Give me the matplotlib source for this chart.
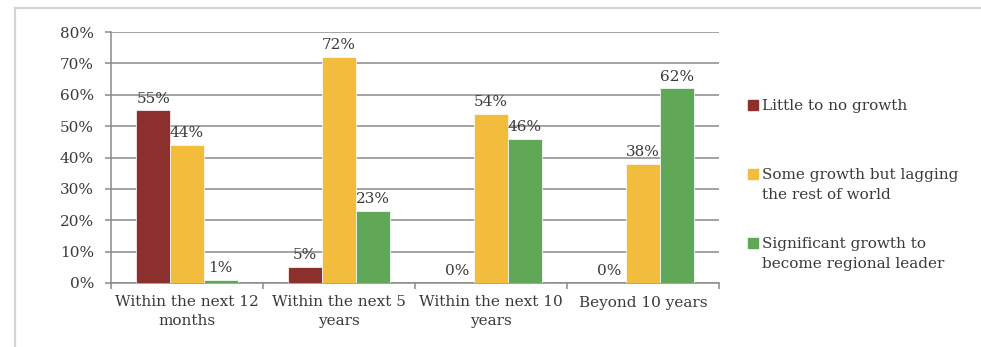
import numpy as np
import matplotlib
matplotlib.use("Agg")
import matplotlib.pyplot as plt
from matplotlib.lines import Line2D
from matplotlib.patches import Rectangle

categories = ["Within the next 12\nmonths", "Within the next 5\nyears",
              "Within the next 10\nyears", "Beyond 10 years"]
series_names = ["Little to no growth",
                "Some growth but lagging\nthe rest of world",
                "Significant growth to\nbecome regional leader"]
little = [55, 5, 0, 0]
some = [44, 72, 54, 38]
significant = [1, 23, 46, 62]
colors = ["#8B302C", "#F2BC3C", "#60A858"]

plt.rcParams["font.family"] = ["DejaVu Serif"]
text_color = "#3a3a3a"
grid_color = "#8a8a8a"
fs = 11

W, H = 981, 347
fig = plt.figure(figsize=(W / 100, H / 100), dpi=100)
ax = fig.add_axes([111 / W, 1 - 283 / H, (719 - 111) / W, (283 - 32) / H])

x = np.arange(len(categories))
width = 0.222
for i, (vals, c) in enumerate(zip([little, some, significant], colors)):
    bars = ax.bar(x + (i - 1) * width, vals, width, color=c,
                  edgecolor="white", linewidth=0.5, zorder=3)
    for b, v in zip(bars, vals):
        ax.annotate(f"{v}%", (b.get_x() + b.get_width() / 2, v),
                    xytext=(0, 3.5), textcoords="offset points",
                    ha="center", va="bottom", fontsize=fs, color=text_color)

ax.set_xlim(-0.5, 3.5)
ax.set_ylim(0, 80)
ax.set_yticks(range(0, 81, 10))
ax.set_yticklabels([f"{v}%" for v in range(0, 81, 10)])
ax.set_xticks(x)
ax.set_xticklabels(categories, linespacing=1.45)
ax.set_xticks(np.arange(-0.5, 4, 1), minor=True)

ax.tick_params(axis="y", length=4.3, width=1.1, color=grid_color, pad=8,
               labelsize=fs, labelcolor=text_color)
ax.tick_params(axis="x", which="major", length=0, pad=9,
               labelsize=fs, labelcolor=text_color)
ax.tick_params(axis="x", which="minor", length=4, width=1.1, color=grid_color)

ax.grid(axis="y", color=grid_color, linewidth=1.1, zorder=0)
ax.set_axisbelow(True)
for s in ["top", "right"]:
    ax.spines[s].set_visible(False)
for s in ["left", "bottom"]:
    ax.spines[s].set_color(grid_color)
    ax.spines[s].set_linewidth(1.1)

# legend on the right, one square per series
legend_tops = [110, 179, 248]
for name, c, yb in zip(series_names, colors, legend_tops):
    fig.patches.append(Rectangle((748 / W, 1 - yb / H), 10 / W, 10 / H,
                                 transform=fig.transFigure, color=c))
    for k, line in enumerate(name.split("\n")):
        fig.text(762 / W, 1 - (yb + 20 * k) / H, line, fontsize=fs,
                 color=text_color, va="baseline", ha="left")

# outer chart border
fig.add_artist(Line2D([14.5 / W, 14.5 / W], [0, 1 - 7.5 / H],
                      transform=fig.transFigure, color="#d4d4d4", lw=1.6))
fig.add_artist(Line2D([14.5 / W, 1], [1 - 7.5 / H, 1 - 7.5 / H],
                      transform=fig.transFigure, color="#d4d4d4", lw=1.6))

fig.savefig("out.png", dpi=100, facecolor="white")
